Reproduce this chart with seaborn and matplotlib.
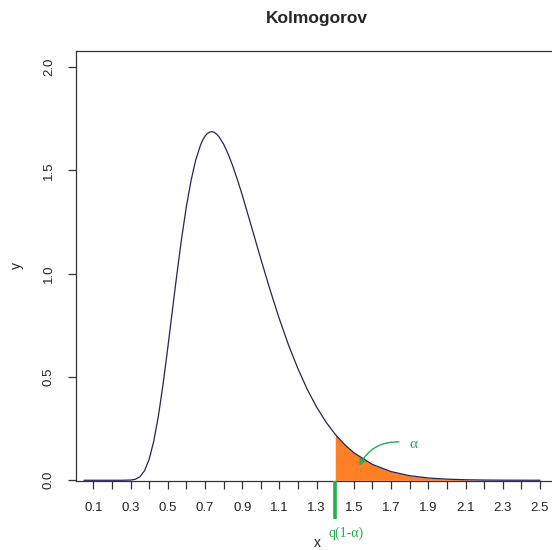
import matplotlib
matplotlib.use("Agg")
import matplotlib.pyplot as plt
import seaborn as sns
import pandas as pd
from matplotlib.patches import FancyArrowPatch

# ---- data ----
x_vals = [0.05, 0.10, 0.15, 0.20, 0.25, 0.30, 0.325, 0.35, 0.375, 0.40, 0.425,
          0.45, 0.475, 0.50, 0.525, 0.55, 0.575, 0.60, 0.625, 0.65, 0.675,
          0.6875, 0.70, 0.7125, 0.725, 0.7375, 0.75, 0.7625, 0.775, 0.80,
          0.825, 0.85, 0.875, 0.90, 0.95, 1.00, 1.05,
          1.10, 1.15, 1.20, 1.25, 1.30, 1.35, 1.40, 1.45, 1.50, 1.60,
          1.70, 1.80, 1.90, 2.00, 2.10, 2.20, 2.30, 2.40, 2.50]
y_vals = [0.0, 0.0, 0.0, 0.0, 0.0, 0.001, 0.0045, 0.0166, 0.0457, 0.101, 0.190,
          0.313, 0.466, 0.640, 0.823, 1.004, 1.174, 1.324, 1.450, 1.549, 1.620,
          1.646, 1.665, 1.678, 1.685, 1.687, 1.684, 1.675, 1.663, 1.627,
          1.578, 1.519, 1.453, 1.381, 1.227, 1.071, 0.921,
          0.780, 0.652, 0.539, 0.439, 0.354, 0.282, 0.222, 0.173, 0.133, 0.0765,
          0.042, 0.0221, 0.0111, 0.0054, 0.0025, 0.0011, 0.0005, 0.0002, 0.0001]
q_crit = 1.4
x_ticks = [0.1, 0.2, 0.3, 0.4, 0.5, 0.6, 0.7, 0.8, 0.9, 1.0, 1.1, 1.2, 1.3,
           1.4, 1.5, 1.6, 1.7, 1.8, 1.9, 2.0, 2.1, 2.2, 2.3, 2.4, 2.5]
x_tick_labels = ["0.1", "", "0.3", "", "0.5", "", "0.7", "", "0.9", "", "1.1", "",
                 "1.3", "", "1.5", "", "1.7", "", "1.9", "", "2.1", "", "2.3", "", "2.5"]
y_ticks = [0.0, 0.5, 1.0, 1.5, 2.0]
y_tick_labels = ["0.0", "0.5", "1.0", "1.5", "2.0"]

df = pd.DataFrame({"x": x_vals, "y": y_vals})
tail = df[df["x"] >= q_crit]

sns.set_theme(style="white")
plt.rcParams["font.family"] = ["Liberation Sans", "DejaVu Sans"]

W, H = 552, 550
fig = plt.figure(figsize=(W / 100, H / 100), dpi=100)
ax = fig.add_axes([75.7 / W, (H - 481.3) / H, (558.6 - 75.7) / W, (481.3 - 50.7) / H])

GREEN = "#22B14C"
ORANGE = "#FF7F27"
CURVE = "#23235f"

ax.fill_between(tail["x"], 0, tail["y"], color=ORANGE, linewidth=0, zorder=1)
sns.lineplot(data=df, x="x", y="y", ax=ax, color=CURVE, linewidth=0.9, zorder=3)

ax.set_xlim(0.0054, 2.6)
ax.set_ylim(-0.005, 2.079)

ax.set_xticks(x_ticks)
ax.set_xticklabels(x_tick_labels)
ax.set_yticks(y_ticks)
ax.set_yticklabels(y_tick_labels, rotation=90, va="center")

for s in ax.spines.values():
    s.set_color("#333333")
    s.set_linewidth(0.9)
ax.tick_params(axis="both", which="both", direction="out", length=6,
               width=0.9, color="#333333", labelsize=9.5, labelcolor="#222222", pad=9,
               bottom=True, left=True)

ax.set_title("Kolmogorov", fontsize=12.5, fontweight="bold", pad=20)
ax.set_xlabel("x", fontsize=10, color="#222222")
ax.set_ylabel("y", fontsize=10, color="#222222")
ax.xaxis.set_label_coords(0.5, -0.143)
ax.xaxis.label.set_verticalalignment("center")
ax.yaxis.set_label_coords(-0.1216, 0.502)
ax.yaxis.label.set_verticalalignment("center")

# critical value marker below the axis
ax.plot([q_crit, q_crit], [-0.003, -0.187], color=GREEN, linewidth=2.6,
        clip_on=False, solid_capstyle="butt", zorder=5)
ax.text(1.458, -0.255, "q(1-α)", color=GREEN, fontsize=10,
        family=["Liberation Serif", "DejaVu Serif"], ha="center", va="center",
        clip_on=False)

# alpha annotation with curved arrow
ax.text(1.80, 0.171, "α", color=GREEN, fontsize=11,
        family=["Liberation Serif", "DejaVu Serif"], ha="left", va="center")
arrow = FancyArrowPatch((1.757, 0.185), (1.524, 0.058),
                        connectionstyle="arc3,rad=0.35", arrowstyle="-|>",
                        mutation_scale=9, color=GREEN, linewidth=1.0, zorder=6)
ax.add_patch(arrow)

fig.savefig("out.png", dpi=100)
